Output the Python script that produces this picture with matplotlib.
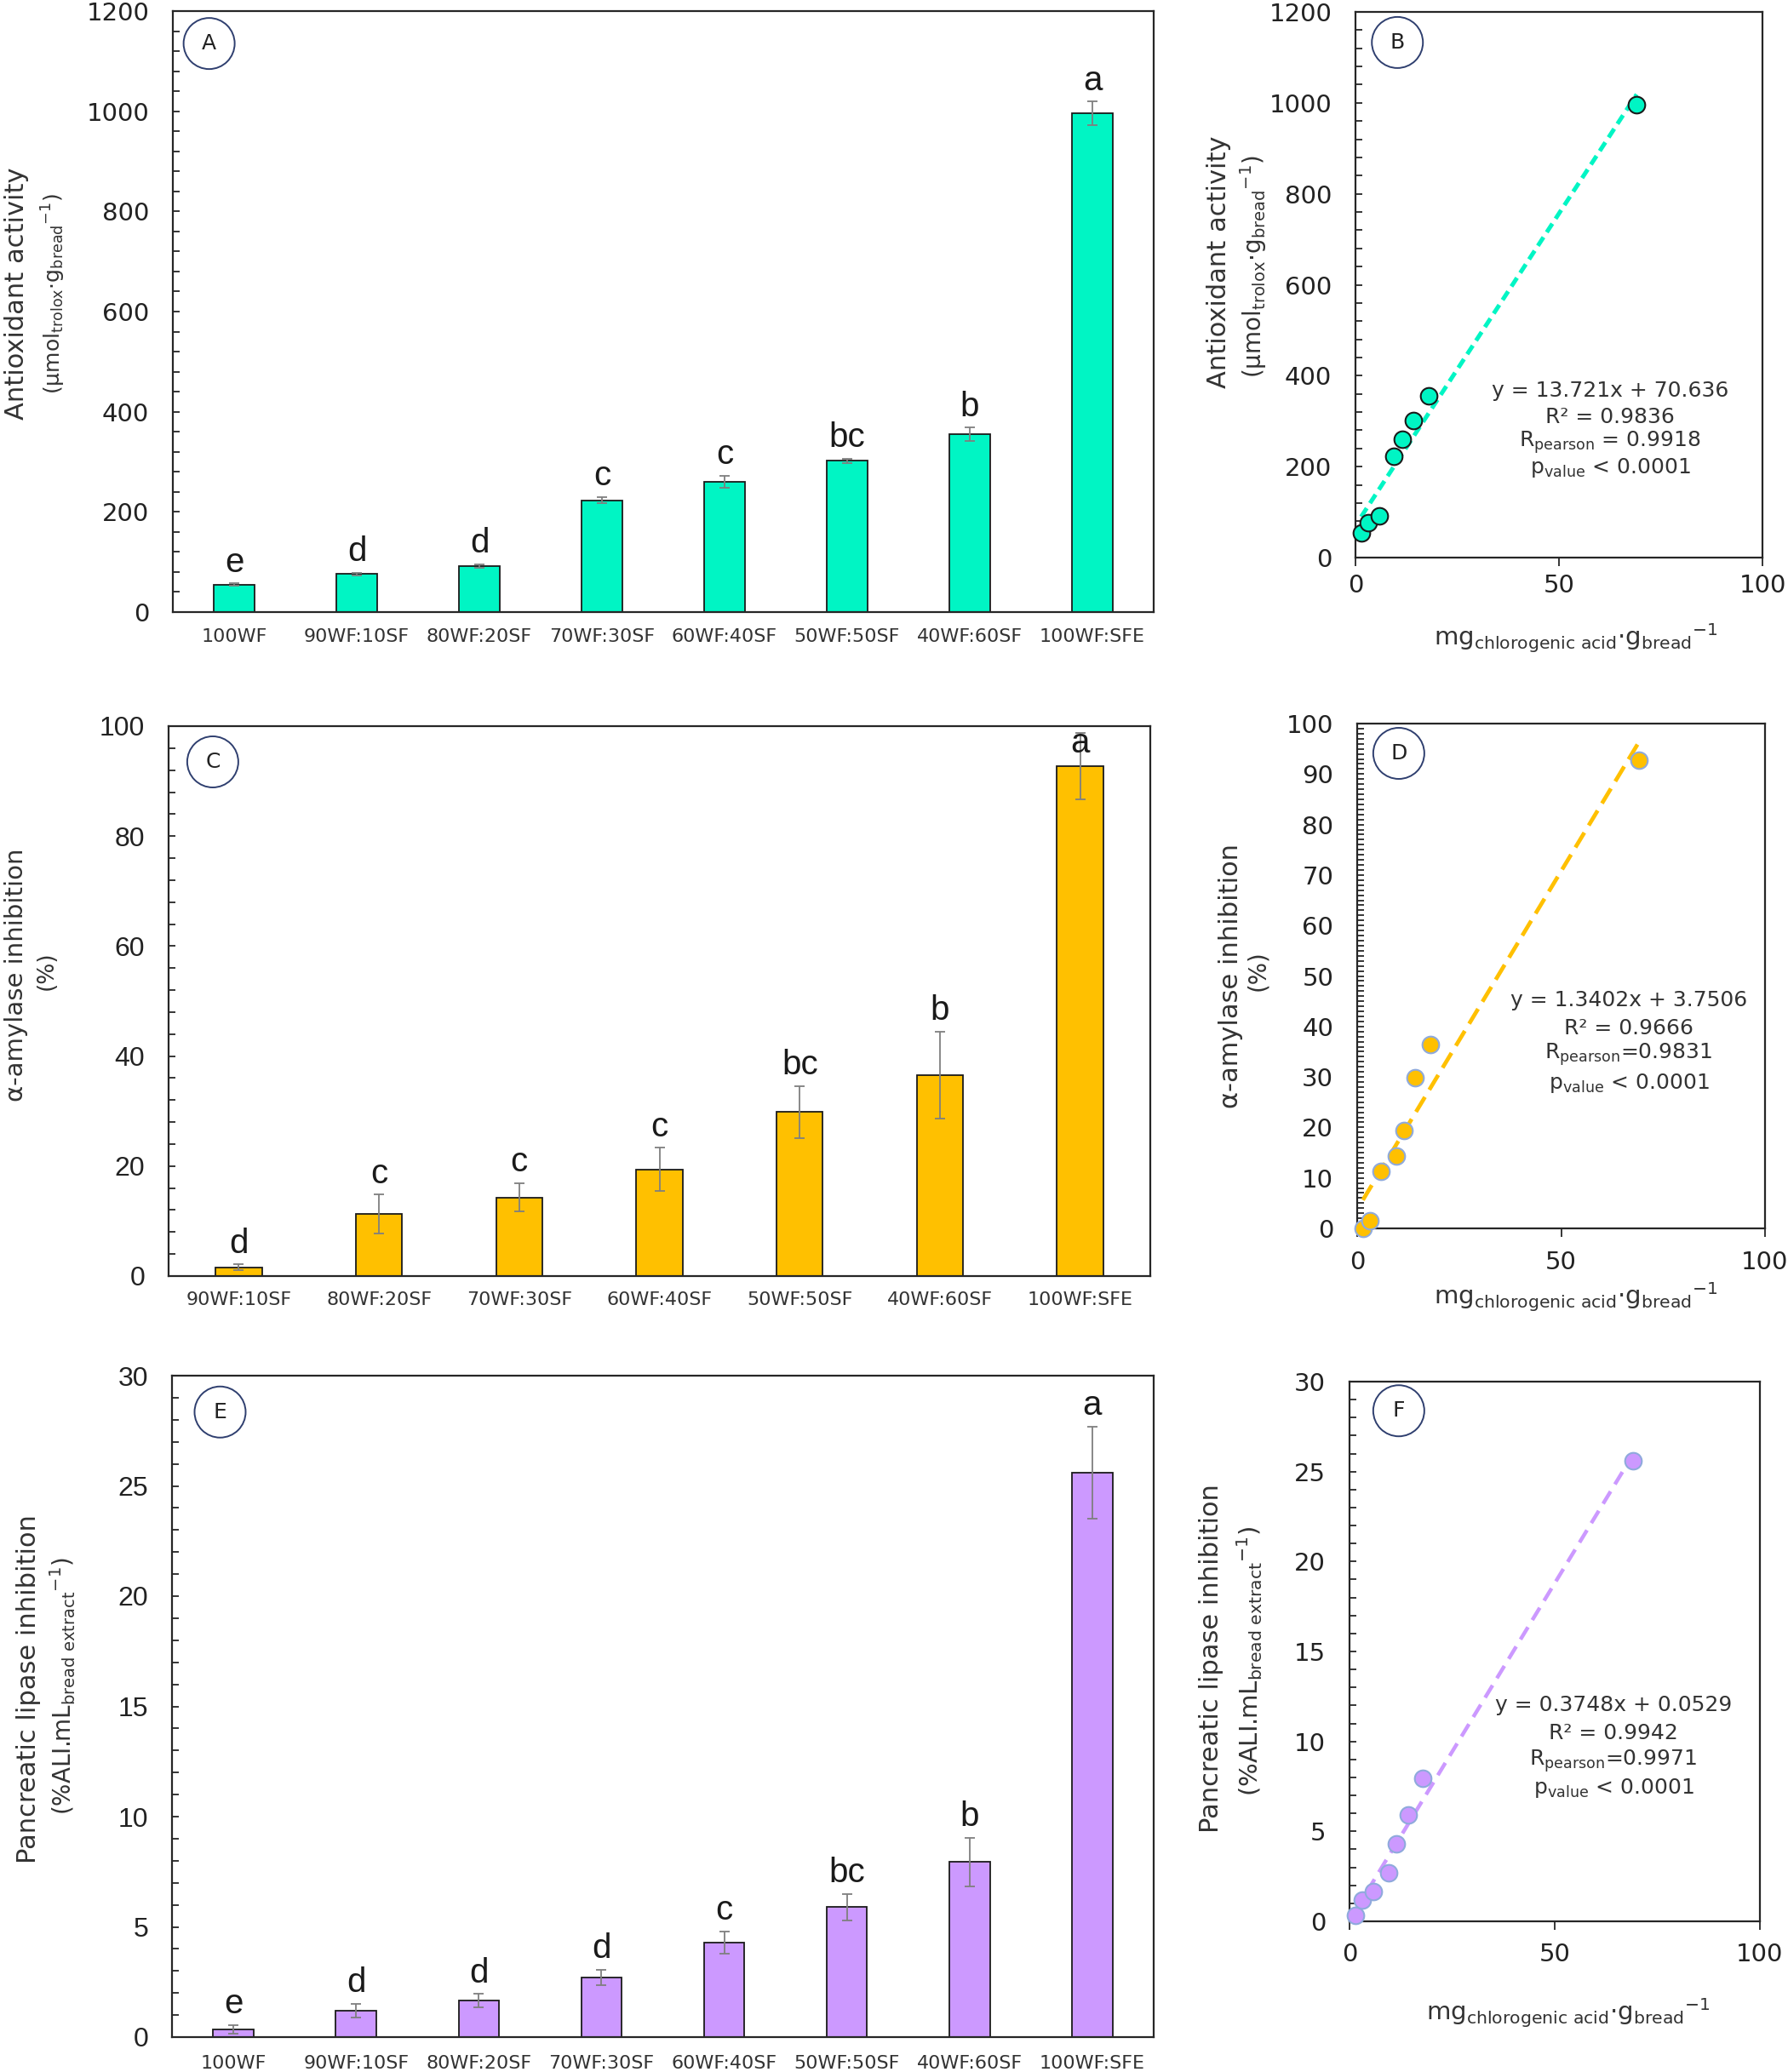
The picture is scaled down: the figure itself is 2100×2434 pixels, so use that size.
import matplotlib
matplotlib.use('Agg')
import matplotlib.pyplot as plt
from matplotlib.ticker import MultipleLocator
import numpy as np

plt.rcParams['font.family'] = ['DejaVu Sans']
plt.rcParams['mathtext.default'] = 'regular'

# bread blends
blend_labels = ['100WF', '90WF:10SF', '80WF:20SF', '70WF:30SF',
                '60WF:40SF', '50WF:50SF', '40WF:60SF', '100WF:SFE']

# A - antioxidant activity
antiox_mean = [55, 76, 92, 223, 260, 302, 355, 996]
antiox_sd = [2, 3, 3, 6, 12, 4, 13, 23]
antiox_letters = ['e', 'd', 'd', 'c', 'c', 'bc', 'b', 'a']

# C - alpha-amylase inhibition (100WF not shown in bars, 0 in scatter)
amylase_labels = blend_labels[1:]
amylase_mean = [1.6, 11.3, 14.3, 19.4, 29.8, 36.5, 92.7]
amylase_sd = [0.5, 3.5, 2.6, 3.9, 4.7, 7.9, 6.0]
amylase_letters = ['d', 'c', 'c', 'c', 'bc', 'b', 'a']
amylase_100wf = 0.0

# E - pancreatic lipase inhibition
lipase_mean = [0.35, 1.2, 1.65, 2.7, 4.3, 5.9, 7.95, 25.6]
lipase_sd = [0.2, 0.3, 0.3, 0.35, 0.5, 0.6, 1.1, 2.1]
lipase_letters = ['e', 'd', 'd', 'd', 'c', 'bc', 'b', 'a']

# chlorogenic acid content (x of scatter plots)
chlorogenic = [1.4, 3.1, 5.8, 9.5, 11.5, 14.3, 17.9, 69.1]

# linear fits (slope, intercept) as printed on the chart
fit_antiox = (13.721, 70.636)
fit_amylase = (1.3402, 3.7506)
fit_lipase = (0.3748, 0.0529)

stats_antiox = ['y = 13.721x + 70.636', 'R² = 0.9836',
                'R$_{pearson}$ = 0.9918', 'p$_{value}$ < 0.0001']
stats_amylase = ['y = 1.3402x + 3.7506', 'R² = 0.9666',
                 'R$_{pearson}$=0.9831', 'p$_{value}$ < 0.0001']
stats_lipase = ['y = 0.3748x + 0.0529', 'R² = 0.9942',
                'R$_{pearson}$=0.9971', 'p$_{value}$ < 0.0001']

TEAL = '#00F5C4'
GOLD = '#FFC000'
LILAC = '#CC99FF'
SPINE = '#262626'
CIRCLE = '#2F3F6F'

W, H = 2100, 2434


def px_rect(left, right, top, bottom):
    return [left / W, 1 - bottom / H, (right - left) / W, (bottom - top) / H]


def style_axes(ax):
    for s in ax.spines.values():
        s.set_color(SPINE)
        s.set_linewidth(1.6)


def tag(ax, letter, fx, fy):
    ax.text(fx, fy, letter, transform=ax.transAxes, ha='center', va='center',
            fontsize=18, color='#222222', zorder=6,
            bbox=dict(boxstyle='circle,pad=0.72', fc='white', ec=CIRCLE, lw=1.4))


def ylabels(ax, line1, line2, x1, x2, y1, y2, size1=22, size2=18):
    ax.text(x1, y1, line1, transform=ax.transAxes, rotation=90,
            ha='center', va='center', fontsize=size1, color='#333333')
    ax.text(x2, y2, line2, transform=ax.transAxes, rotation=90,
            ha='center', va='center', fontsize=size2, color='#333333')


def bar_panel(ax, labels, means, sds, letters, color, ymax, major, minor, xpad):
    x = np.arange(len(labels))
    ax.bar(x, means, width=0.33, color=color, edgecolor='#1a1a1a', linewidth=1.3, zorder=2)
    ax.errorbar(x, means, yerr=sds, fmt='none', ecolor='#7f7f7f',
                elinewidth=1.3, capsize=4, capthick=1.3, zorder=3)
    tops = np.minimum(np.array(means) + np.array(sds), ymax * 0.93)
    for xi, yi, lt in zip(x, tops, letters):
        ax.annotate(lt, (xi, yi), xytext=(0, 10), textcoords='offset points',
                    ha='center', va='baseline', fontsize=29,
                    family=['Liberation Sans', 'DejaVu Sans'], color='#1a1a1a')
    ax.set_xlim(-0.5, len(labels) - 0.5)
    ax.set_ylim(0, ymax)
    ax.set_xticks(x)
    ax.set_xticklabels(labels, fontsize=16, color='#333333')
    ax.tick_params(axis='x', length=0, pad=xpad)
    ax.yaxis.set_major_locator(MultipleLocator(major))
    ax.yaxis.set_minor_locator(MultipleLocator(minor))
    ax.tick_params(axis='y', which='both', direction='in', length=6, width=1.3,
                   pad=20, color=SPINE)
    ax.tick_params(axis='y', labelsize=21, labelcolor='#222222')
    style_axes(ax)


def scatter_panel(ax, xs, ys, fit, color, edge, ymax, major, minor, stats,
                  stats_x, stats_y, lw, dashes, xpad):
    xs = np.array(xs)
    xl = np.linspace(xs.min(), xs.max(), 50)
    ax.plot(xl, fit[0] * xl + fit[1], color=color, lw=lw, dashes=dashes, zorder=2)
    ax.scatter(xs, ys, s=200, color=color, edgecolors=edge, linewidths=1.5,
               zorder=3, clip_on=False)
    ax.set_xlim(0, 100)
    ax.set_ylim(0, ymax)
    ax.set_xticks([0, 50, 100])
    ax.tick_params(axis='x', direction='out', length=7, width=1.3, pad=xpad,
                   labelsize=21, color=SPINE, labelcolor='#222222')
    ax.yaxis.set_major_locator(MultipleLocator(major))
    ax.yaxis.set_minor_locator(MultipleLocator(minor))
    ax.tick_params(axis='y', which='both', direction='in', length=6, width=1.3,
                   pad=20, color=SPINE)
    ax.tick_params(axis='y', labelsize=21, labelcolor='#222222')
    for i, line in enumerate(stats):
        ax.text(stats_x, stats_y[i], line, transform=ax.transAxes,
                ha='center', va='center', fontsize=18, color='#333333')
    style_axes(ax)


def xlabel_scatter(ax, fx, fy):
    ax.text(fx, fy, r'mg$_{chlorogenic\ acid}$·g$_{bread}$$^{-1}$',
            transform=ax.transAxes, ha='center', va='center', fontsize=21,
            color='#333333')


def main():
    fig = plt.figure(figsize=(W / 100, H / 100), dpi=100)

    axA = fig.add_axes(px_rect(203, 1355, 13, 719))
    axB = fig.add_axes(px_rect(1592, 2070, 14, 655))
    axC = fig.add_axes(px_rect(198, 1351, 853, 1499))
    axD = fig.add_axes(px_rect(1594, 2073, 850, 1443))
    axE = fig.add_axes(px_rect(202, 1355, 1616, 2393))
    axF = fig.add_axes(px_rect(1585, 2067, 1623, 2257))

    # A
    bar_panel(axA, blend_labels, antiox_mean, antiox_sd, antiox_letters, TEAL,
              1200, 200, 40, 14)
    tag(axA, 'A', 0.037, 0.946)
    ylabels(axA, 'Antioxidant activity',
            r'(µmol$_{trolox}$·g$_{bread}$$^{-1}$)', -0.159, -0.122, 0.53, 0.53)

    # B
    scatter_panel(axB, chlorogenic, antiox_mean, fit_antiox, TEAL, '#1a1a1a',
                  1200, 200, 40, stats_antiox, 0.626,
                  [0.306, 0.258, 0.211, 0.164], 3.6, (2.4, 1.4), 7)
    tag(axB, 'B', 0.103, 0.944)
    ylabels(axB, 'Antioxidant activity',
            r'(µmol$_{trolox}$·g$_{bread}$$^{-1}$)', -0.336, -0.251, 0.541, 0.534,
            size2=20)
    xlabel_scatter(axB, 0.542, -0.148)

    # C
    bar_panel(axC, amylase_labels, amylase_mean, amylase_sd, amylase_letters, GOLD,
              100, 20, 4, 13)
    axC.tick_params(axis='y', labelsize=23)
    for t in axC.get_yticklabels():
        t.set_family(['Liberation Sans', 'DejaVu Sans'])
    tag(axC, 'C', 0.045, 0.935)
    ylabels(axC, 'α-amylase inhibition', '(%)', -0.155, -0.124, 0.548, 0.556,
            size1=21, size2=19)

    # D
    scatter_panel(axD, chlorogenic, [amylase_100wf] + amylase_mean, fit_amylase,
                  GOLD, '#8FAADC', 100, 10, 1, stats_amylase, 0.666,
                  [0.452, 0.396, 0.344, 0.287], 3.4, (4.3, 2.1), 12)
    tag(axD, 'D', 0.102, 0.941)
    ylabels(axD, 'α-amylase inhibition', '(%)', -0.309, -0.243, 0.50, 0.51,
            size1=22, size2=20)
    xlabel_scatter(axD, 0.537, -0.137)

    # E
    bar_panel(axE, blend_labels, lipase_mean, lipase_sd, lipase_letters, LILAC,
              30, 5, 1, 15)
    axE.tick_params(axis='y', labelsize=23)
    for t in axE.get_yticklabels():
        t.set_family(['Liberation Sans', 'DejaVu Sans'])
    tag(axE, 'E', 0.049, 0.945)
    ylabels(axE, 'Pancreatic lipase inhibition',
            r'(%ALI.mL$_{bread\ extract}$$^{-1}$)', -0.146, -0.111, 0.526, 0.53,
            size2=20)

    # F
    scatter_panel(axF, chlorogenic, lipase_mean, fit_lipase, LILAC, '#8FAADC',
                  30, 5, 1, stats_lipase, 0.643,
                  [0.401, 0.349, 0.297, 0.247], 3.2, (3.8, 2.2), 11)
    tag(axF, 'F', 0.12, 0.946)
    ylabels(axF, 'Pancreatic lipase inhibition',
            r'(%ALI.mL$_{bread\ extract}$$^{-1}$)', -0.338, -0.243, 0.487, 0.483,
            size2=21)
    xlabel_scatter(axF, 0.533, -0.170)

    fig.savefig('out.png', dpi=100)


if __name__ == '__main__':
    main()
